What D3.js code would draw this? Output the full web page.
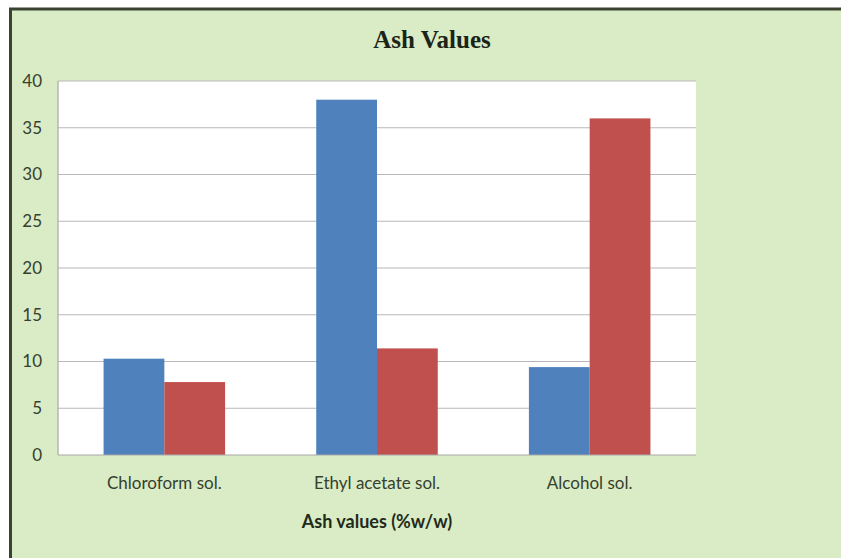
<!DOCTYPE html>
<html>
<head>
<meta charset="utf-8">
<script src="https://cdn.jsdelivr.net/npm/d3@7"></script>
<style>
  html, body { margin: 0; padding: 0; background: #ffffff; }
  svg { display: block; }
</style>
</head>
<body>
<svg id="chart" width="841" height="558"></svg>
<script>
// Ash values (%w/w) for each solvent extract
const categories = ["Chloroform sol.", "Ethyl acetate sol.", "Alcohol sol."];
const seriesNames = ["Series 1", "Series 2"];
const series1 = [10.3, 38, 9.4];
const series2 = [7.8, 11.4, 36];
const yTicks = [0, 5, 10, 15, 20, 25, 30, 35, 40];
const colors = ["#4f81bd", "#c0504d"];

const svg = d3.select("#chart");
const W = 841, H = 558;
const plot = { left: 58, top: 81, right: 696, bottom: 455 };
const sansFont = "Lato, 'Open Sans', sans-serif";

// chart frame
svg.append("rect").attr("x", 10.5).attr("y", 9).attr("width", W + 10).attr("height", H + 10)
  .attr("fill", "#d9ecc5").attr("stroke", "#3b4230").attr("stroke-width", 3);

// plot area
svg.append("rect")
  .attr("x", plot.left).attr("y", plot.top)
  .attr("width", plot.right - plot.left).attr("height", plot.bottom - plot.top)
  .attr("fill", "#ffffff");

const x = d3.scaleBand().domain(categories)
  .range([plot.left, plot.right])
  .paddingInner(3 / 7).paddingOuter(1.5 / 7);
const xs = d3.scaleBand().domain(seriesNames).range([0, x.bandwidth()]);
const y = d3.scaleLinear().domain([0, 40]).range([plot.bottom, plot.top]);

// gridlines
svg.append("g").selectAll("line").data(yTicks.filter(t => t > 0)).join("line")
  .attr("x1", plot.left).attr("x2", plot.right)
  .attr("y1", d => y(d)).attr("y2", d => y(d))
  .attr("stroke", "#b8b8b8").attr("stroke-width", 1.2);

// bars
const rows = categories.map((c, i) => ({ cat: c, values: [series1[i], series2[i]] }));
svg.append("g").selectAll("g").data(rows).join("g")
  .attr("transform", d => `translate(${x(d.cat)},0)`)
  .selectAll("rect").data(d => d.values.map((v, j) => ({ v, j }))).join("rect")
  .attr("x", d => xs(seriesNames[d.j]))
  .attr("width", xs.bandwidth())
  .attr("y", d => y(d.v))
  .attr("height", d => y(0) - y(d.v))
  .attr("fill", d => colors[d.j]);

// axis lines
svg.append("line").attr("x1", plot.left).attr("x2", plot.left)
  .attr("y1", plot.top).attr("y2", plot.bottom)
  .attr("stroke", "#a8a8a8").attr("stroke-width", 1.2);
svg.append("line").attr("x1", plot.left).attr("x2", plot.right)
  .attr("y1", plot.bottom).attr("y2", plot.bottom)
  .attr("stroke", "#a8a8a8").attr("stroke-width", 1.2);

// y axis labels
const yAxis = d3.axisLeft(y).tickValues(yTicks).tickSize(0).tickPadding(16);
const gy = svg.append("g").attr("transform", `translate(${plot.left},0)`).call(yAxis);
gy.select(".domain").remove();
gy.selectAll("text").attr("font-family", sansFont)
  .attr("font-size", 17).attr("fill", "#36402f");

// x axis labels
const xAxis = d3.axisBottom(x).tickSize(0).tickPadding(22);
const gx = svg.append("g").attr("transform", `translate(0,${plot.bottom})`).call(xAxis);
gx.select(".domain").remove();
gx.selectAll("text").attr("font-family", sansFont)
  .attr("font-size", 17).attr("fill", "#36402f");

// axis title
svg.append("text").attr("x", (plot.left + plot.right) / 2).attr("y", 528)
  .attr("text-anchor", "middle")
  .attr("font-family", sansFont)
  .attr("font-size", 18).attr("font-weight", "bold").attr("fill", "#1f2a1a")
  .text("Ash values (%w/w)");

// chart title
svg.append("text").attr("x", 432).attr("y", 48)
  .attr("text-anchor", "middle")
  .attr("font-family", "'Liberation Serif', 'Times New Roman', serif")
  .attr("font-size", 25).attr("font-weight", "bold").attr("fill", "#1c2418")
  .text("Ash Values");
</script>
</body>
</html>
